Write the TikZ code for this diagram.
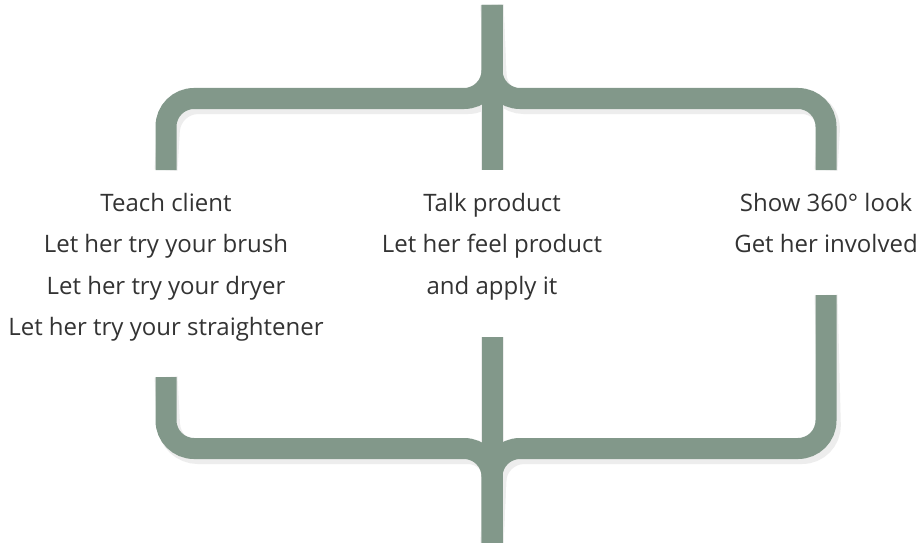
\documentclass[tikz,border=0pt]{standalone}
\usepackage{fontspec}
\setmainfont{Open Sans}
\usetikzlibrary{calc}
\definecolor{sage}{RGB}{130,152,138}
\tikzset{
 branch/.style={line width=21pt,draw=sage,rounded corners=28pt},
 branchshadow/.style={line width=23pt,draw=black!7,rounded corners=28pt},
 advice/.style={align=center,anchor=north,inner sep=0,text=black!80,font=\fontsize{24}{41.5}\selectfont}
}
\begin{document}
\begin{tikzpicture}[x=1pt,y=-1pt]
\path[use as bounding box,fill=white] (0,0) rectangle (924,543);
\coordinate (top) at (492,5);
\coordinate (bottom) at (492,543);
\coordinate (TL) at (166,170);
\coordinate (TR) at (826,170);
\coordinate (TM) at (492,170);
\coordinate (BL) at (166,377);
\coordinate (BR) at (826,295);
\coordinate (BM) at (492,337);
% faint shadow
\begin{scope}[shift={(4,4)}]
\draw[branchshadow] (TL) -- (166,98.5) -- (492,98.5) -- (top);
\draw[branchshadow] (TR) -- (826,98.5) -- (492,98.5) -- (top);
\draw[branchshadow] (BL) -- (166,448.5) -- (492,448.5) -- (bottom);
\draw[branchshadow] (BR) -- (826,448.5) -- (492,448.5) -- (bottom);
\draw[branchshadow] (top) -- (TM);
\draw[branchshadow] (BM) -- (bottom);
\end{scope}
% upper brace
\draw[branch] (TL) -- (166,98.5) -- (492,98.5) -- (top);
\draw[branch] (TR) -- (826,98.5) -- (492,98.5) -- (top);
\draw[branch] (top) -- (TM);
% lower brace
\draw[branch] (BL) -- (166,448.5) -- (492,448.5) -- (bottom);
\draw[branch] (BR) -- (826,448.5) -- (492,448.5) -- (bottom);
\draw[branch] (BM) -- (bottom);
% texts
\node[advice] (teach) at (166,193) {Teach client\\Let her try your brush\\Let her try your dryer\\Let her try your straightener};
\node[advice] (talk) at (492,193) {Talk product\\Let her feel product\\and apply it};
\node[advice] (show) at (826,193) {Show 360\textdegree\ look\\Get her involved};
\end{tikzpicture}
\end{document}
